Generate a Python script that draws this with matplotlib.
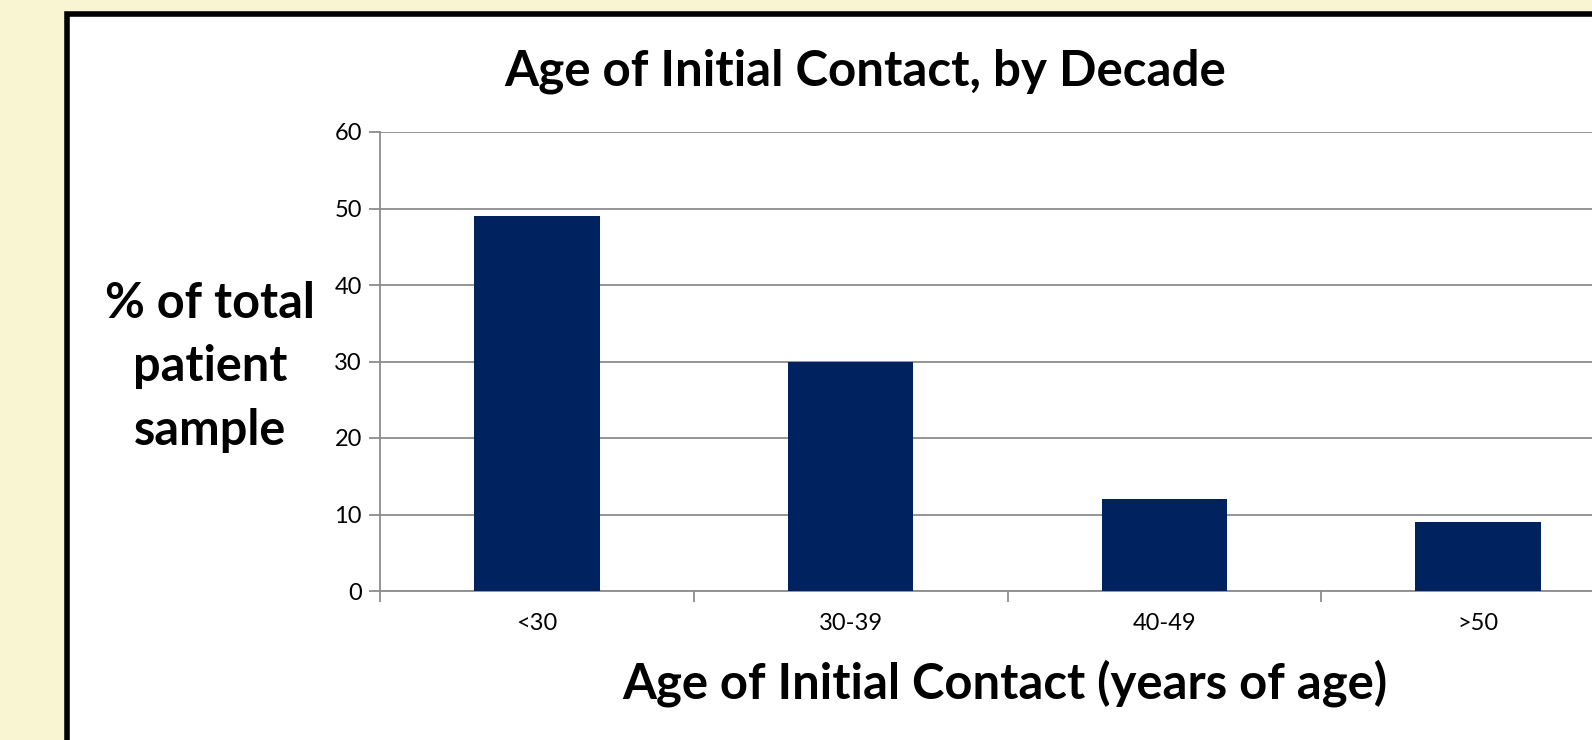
import matplotlib

matplotlib.use("Agg")
import matplotlib.pyplot as plt
from matplotlib.patches import Rectangle

# ---- data -----------------------------------------------------------------
categories = ["<30", "30-39", "40-49", ">50"]
percent_of_sample = [49, 30, 12, 9]
y_ticks = [0, 10, 20, 30, 40, 50, 60]

# ---- style ----------------------------------------------------------------
CREAM = "#F9F4D2"
NAVY = "#002360"
GRID = "#8C8C8C"
W, H = 1592, 740
plt.rcParams["font.family"] = ["Lato", "DejaVu Sans"]

fig = plt.figure(figsize=(W / 100, H / 100), dpi=100)
fig.patch.set_facecolor(CREAM)

# white panel with black frame, running off the right and bottom edges
fig.patches.append(Rectangle((67 / W, -0.05), 1.2, (H - 14) / H + 0.05,
                             transform=fig.transFigure, facecolor="white",
                             edgecolor="black", linewidth=4, zorder=-5))

# plot area: left at x=380px, zero line at y=591px, 60 at y=132px
left, right = 380 / W, 1635 / W
bottom, top = (H - 591) / H, (H - 132) / H
ax = fig.add_axes([left, bottom, right - left, top - bottom])
ax.set_facecolor("none")

x = range(len(categories))
ax.bar(x, percent_of_sample, width=0.4, color=NAVY, zorder=3)

ax.set_xlim(-0.5, len(categories) - 0.5)
ax.set_ylim(0, 60)
ax.set_yticks(y_ticks)
ax.yaxis.grid(True, color=GRID, linewidth=1.3, zorder=0)
ax.set_axisbelow(True)

ax.set_xticks(list(x))
ax.set_xticklabels(categories)
ax.set_xticks([i - 0.5 for i in range(len(categories) + 1)], minor=True)
ax.tick_params(axis="x", which="major", length=0, pad=16, labelsize=17)
ax.tick_params(axis="x", which="minor", length=8, width=1.3, color=GRID, direction="out")
ax.tick_params(axis="y", length=8, width=1.3, color=GRID, direction="out", pad=5, labelsize=17)

for side in ("top", "right"):
    ax.spines[side].set_visible(False)
for side in ("left", "bottom"):
    ax.spines[side].set_color(GRID)
    ax.spines[side].set_linewidth(1.3)

fig.text(865 / W, 1 - 71 / H, "Age of Initial Contact, by Decade",
         ha="center", va="center", fontsize=35.5, fontweight="bold")
fig.text(210 / W, 1 - 367 / H, "% of total\npatient\nsample",
         ha="center", va="center", fontsize=35, fontweight="bold", linespacing=1.5)
fig.text(1005 / W, 1 - 683 / H, "Age of Initial Contact (years of age)",
         ha="center", va="center", fontsize=35.3, fontweight="bold")

fig.savefig("out.png", dpi=100, facecolor=CREAM)
